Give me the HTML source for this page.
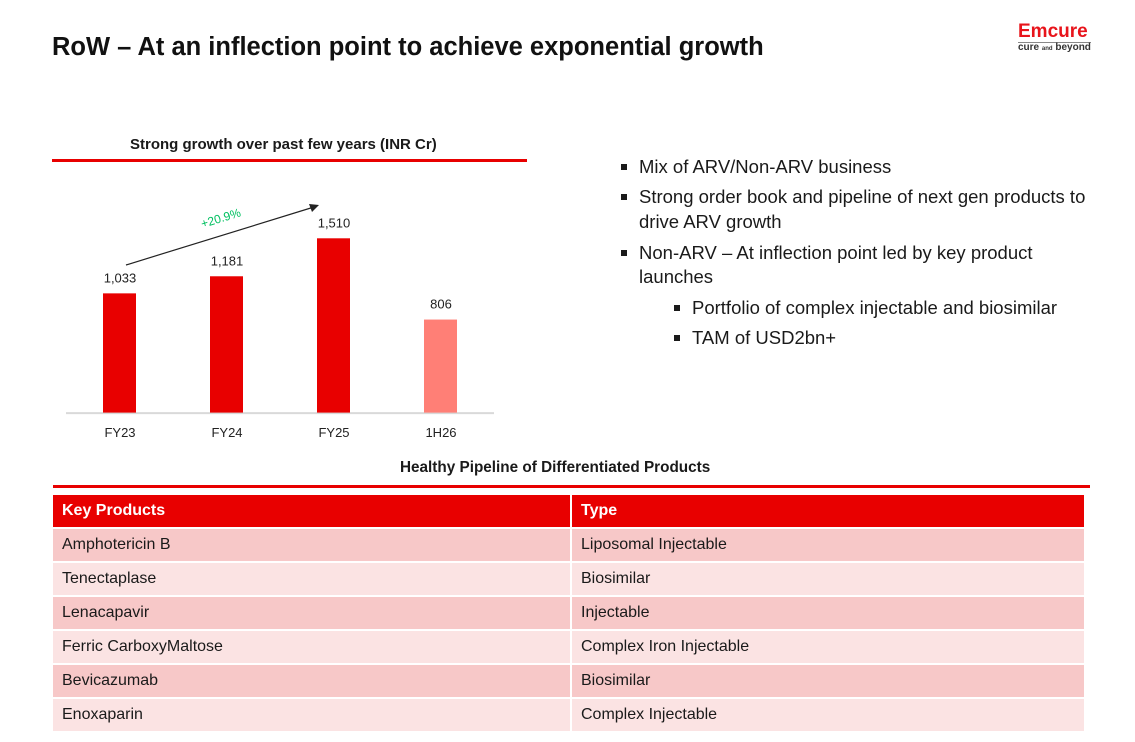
<!DOCTYPE html>
<html><head><meta charset="utf-8"><style>
body{margin:0;width:1135px;height:742px;background:#fff;position:relative;overflow:hidden;font-family:"Liberation Sans",sans-serif;color:#1a1a1a}
.a{position:absolute;white-space:nowrap}
.b{position:absolute;font-size:18.5px;white-space:nowrap}
.sq{position:absolute;width:6px;height:6px;background:#1a1a1a}
table{position:absolute;left:53px;top:493px;width:1033px;border-collapse:separate;border-spacing:0 2px;font-size:16px}
td{height:32px;padding:0 0 0 9px;border-right:2px solid #fff}
tr.h td{background:#e80000;color:#fff;font-weight:bold}
tr.r1 td{background:#f7c8c8}
tr.r2 td{background:#fbe3e3}
</style></head><body>
<div class="a" style="left:52px;top:33px;font-size:25.5px;font-weight:bold;color:#111">RoW – At an inflection point to achieve exponential growth</div>
<div class="a" style="left:1018px;top:22px;line-height:1">
<div style="color:#e8141b;font-weight:bold;font-size:19px">Emcure</div>
<div style="font-size:10px;font-weight:bold;color:#333;border-top:1px solid #888;margin-top:1px">cure <span style="font-size:6px">and</span> beyond</div></div>

<div class="a" style="left:130px;top:136px;font-size:15px;font-weight:bold">Strong growth over past few years (INR Cr)</div>
<div class="a" style="left:52px;top:159px;width:475px;height:3px;background:#e80000"></div>
<svg id="chart" class="a" style="left:0;top:0" width="540" height="450"></svg>

<div class="sq" style="left:621px;top:164px"></div><div class="b" style="left:639px;top:156px">Mix of ARV/Non-ARV business</div>
<div class="sq" style="left:621px;top:194px"></div><div class="b" style="left:639px;top:186px">Strong order book and pipeline of next gen products to</div>
<div class="b" style="left:639px;top:211px">drive ARV growth</div>
<div class="sq" style="left:621px;top:250px"></div><div class="b" style="left:639px;top:242px">Non-ARV – At inflection point led by key product</div>
<div class="b" style="left:639px;top:266px">launches</div>
<div class="sq" style="left:674px;top:305px"></div><div class="b" style="left:692px;top:297px">Portfolio of complex injectable and biosimilar</div>
<div class="sq" style="left:674px;top:335px"></div><div class="b" style="left:692px;top:327px">TAM of USD2bn+</div>

<div class="a" style="left:400px;top:459px;font-size:15.3px;font-weight:bold">Healthy Pipeline of Differentiated Products</div>
<div class="a" style="left:53px;top:485px;width:1037px;height:3px;background:#e80000"></div>
<table>
<tr class="h"><td style="width:508px">Key Products</td><td>Type</td></tr>
<tr class="r1"><td>Amphotericin B</td><td>Liposomal Injectable</td></tr>
<tr class="r2"><td>Tenectaplase</td><td>Biosimilar</td></tr>
<tr class="r1"><td>Lenacapavir</td><td>Injectable</td></tr>
<tr class="r2"><td>Ferric CarboxyMaltose</td><td>Complex Iron Injectable</td></tr>
<tr class="r1"><td>Bevicazumab</td><td>Biosimilar</td></tr>
<tr class="r2"><td>Enoxaparin</td><td>Complex Injectable</td></tr>
</table>

<script>
const categories=["FY23","FY24","FY25","1H26"];
const values=[1033,1181,1510,806];
const labels=["1,033","1,181","1,510","806"];
const colors=["#e80000","#e80000","#e80000","#ff7f76"];
const svg=document.getElementById('chart');
const NS='http://www.w3.org/2000/svg';
const base=412.6,scale=174.3/1510;
const x=i=>120+i*107;
const y=v=>base-v*scale;
function mk(t,a){const e=document.createElementNS(NS,t);for(const k in a)e.setAttribute(k,a[k]);svg.appendChild(e);return e;}
const ax=mk('line',{x1:66,x2:494,y1:base+0.5,y2:base+0.5,stroke:'#d9d9d9','stroke-width':2});


values.forEach((v,i)=>{
 const r=mk('rect',{x:x(i)-17,y:y(v),width:33,height:base-y(v),fill:colors[i]});
 
 
 const t=mk('text',{x:x(i),y:y(v)-11,'text-anchor':'middle','font-size':13,fill:'#222'});
 t.textContent=labels[i];
 
 
 const c=mk('text',{x:x(i),y:437,'text-anchor':'middle','font-size':13,fill:'#222'});
 c.textContent=categories[i];
 
 
});
const ar=mk('line',{x1:126,y1:265,x2:314,y2:207,stroke:'#222','stroke-width':1.2});


mk('polygon',{points:'319,205 309,204 312,212',fill:'#222'});
const g=mk('text',{x:222,y:222,'text-anchor':'middle','font-size':12,fill:'#00c060',transform:'rotate(-17 222 222)'});
g.textContent='+20.9%';


</script>
</body></html>
